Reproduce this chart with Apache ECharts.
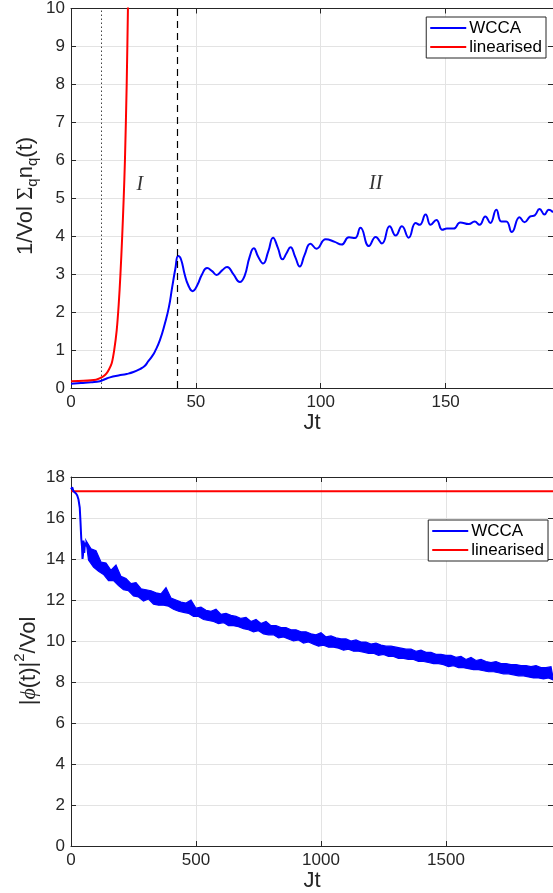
<!DOCTYPE html>
<html><head><meta charset="utf-8">
<script src="https://cdn.jsdelivr.net/npm/echarts@6/dist/echarts.min.js"></script>
<style>html,body{margin:0;padding:0;background:#fff}#c{width:553px;height:893px}</style>
</head><body><div id="c"></div>
<script>
// ---------- Top panel data: 1/Vol Σ_q n_q(t) ----------
const wccaTopT = [0,4,8,11.6,13.5,15.6,19,22.3,25,27.6,29.5,30.9,32.5,33.6,35.6,37.6,39.2,40.5,41.8,42.9,44,45.5,47,48.7,50.5,52.5,54.5,56.5,58.3,60.5,62.5,65,67.6,69.5,71.5,73.2,75,76.9,79,80.9,82.8,84.7,86.3,87.9,89.8,91.6,93.5,95.9,98.3,102,105.6,108.3,111.3,113.7,115.9,119.3,122,124.5,127.6,130,132.5,135.2,138,139.6,142,144,146.3,148.7,150.5,153.2,155.9,159.3,161.6,163.6,165.9,167.9,170.3,172.3,174.3,176.5,179.6,181.6,183.9,185.7,187.6,189.6,191.3,193];
const wccaTopV = [0.11,0.13,0.15,0.18,0.23,0.28,0.33,0.37,0.42,0.5,0.58,0.7,0.84,0.96,1.26,1.7,2.13,2.65,3.15,3.48,3.4,3.0,2.7,2.55,2.7,3.0,3.16,3.08,2.98,3.1,3.19,3.0,2.79,2.95,3.45,3.68,3.45,3.28,3.6,3.96,3.7,3.39,3.55,3.71,3.45,3.2,3.5,3.8,3.67,3.92,3.85,3.78,3.97,3.95,4.22,3.74,3.98,3.81,4.26,4.02,4.26,3.96,4.35,4.3,4.57,4.3,4.43,4.17,4.2,4.2,4.36,4.32,4.39,4.3,4.52,4.35,4.7,4.39,4.39,4.11,4.5,4.37,4.52,4.55,4.72,4.57,4.7,4.63];
const linTopT = [0,5,10,11.6,13,14.3,15.3,16.3,17.3,18.3,19.1,19.8,20.5,21.1,21.6,22.3,22.8,23.3];
const linTopV = [0.18,0.19,0.22,0.26,0.31,0.39,0.5,0.65,1.0,1.52,2.2,3.0,4.0,5.0,6.0,8.0,10.0,12.0];
const markerLines = [12, 42.5];           // dotted, dashed
const regionLabels = [[27.6, 5.35, 'I'], [122, 5.39, 'II']];

// ---------- Bottom panel data: |φ(t)|²/Vol ----------
const phiEarlyT = [0,5,10,15,20,25,30,35,38,41,44,46,48,50,53,56,60];
const phiEarlyV = [17.4,17.5,17.3,17.35,17.2,17.1,16.9,16.5,15.8,15.0,14.6,14.0,14.2,14.9,14.3,14.8,14.6];
// noisy band: upper edge at t = 60, 80, ..., 1920 ; lower edge at t = 70, 90, ..., 1930
const phiUpperStart = 60, phiLowerStart = 70, phiEdgeStep = 20;
const phiUpper = [
14.9,14.5,14.4,13.85,13.8, 13.45,13.7,13.15,13.05,12.8, 12.85,12.55,12.5,12.45,12.35,
12.3,12.6,12.1,12.0,11.9, 11.85,12.0,11.6,11.65,11.5, 11.45,11.55,11.3,11.35,11.25,
11.2,11.1,11.15,10.95,11.05, 10.85,10.95,10.75,10.75,10.65, 10.65,10.55,10.55,10.45,10.45,
10.35,10.3,10.4,10.2,10.25, 10.15,10.1,10.1,10.0,10.05, 9.95,9.95,9.85,9.9,9.8,
9.75,9.75,9.7,9.65,9.6, 9.6,9.5,9.55,9.45,9.45, 9.35,9.35,9.3,9.3,9.2,
9.25,9.1,9.2,9.05,9.1, 9.0,8.95,9.0,8.9,8.9, 8.85,8.85,8.8,8.8,8.75, 8.8,8.7,8.7,8.75];
const phiLower = [
13.95,13.6,13.4,13.25,12.95, 12.95,12.7,12.5,12.45,12.2, 12.15,11.95,12.05,11.8,11.75,
11.75,11.7,11.55,11.45,11.4, 11.35,11.2,11.2,11.05,11.0, 10.95,10.85,10.9,10.75,10.75,
10.7,10.6,10.55,10.45,10.5, 10.35,10.3,10.3,10.15,10.2, 10.1,10.0,10.05,9.9,9.95,
9.85,9.75,9.8,9.7,9.7, 9.65,9.55,9.6,9.5,9.5, 9.45,9.4,9.4,9.3,9.35,
9.25,9.25,9.15,9.15,9.1, 9.1,9.0,9.0,8.95,8.9, 8.9,8.85,8.75,8.8,8.7,
8.7,8.65,8.6,8.6,8.55, 8.5,8.5,8.45,8.4,8.4, 8.35,8.3,8.3,8.25,8.2, 8.2,8.15,8.2,8.1];
const linBottomT = [0, 1928];
const linBottomV = [17.3, 17.3];

// ---------- build ----------
const zip = (a, b) => a.map((v, i) => [v, b[i]]);
const upperPts = phiUpper.map((v, i) => [phiUpperStart + i * phiEdgeStep, v]);
const lowerPts = phiLower.map((v, i) => [phiLowerStart + i * phiEdgeStep, v]);

const AX = '#262626', GRIDC = '#e3e3e3', FONT = 'Liberation Sans', SERIF = "'Liberation Serif','DejaVu Serif'";
function xAxis(gi, pos, max, interval, main, name) {
  return {
    type: 'value', gridIndex: gi, position: pos, min: 0, max: max, interval: interval,
    axisLine: {show: true, onZero: false, lineStyle: {color: AX, width: 1}},
    axisTick: {show: true, inside: true, length: 5, lineStyle: {color: AX}},
    axisLabel: {show: main, color: AX, fontSize: 17, fontFamily: FONT, margin: 6, showMaxLabel: false,
      formatter: v => (v % interval === 0 ? String(v) : '')},
    splitLine: {show: main, lineStyle: {color: GRIDC, width: 1}},
    name: main ? name : '', nameLocation: 'middle', nameGap: 21,
    nameTextStyle: {color: AX, fontSize: 22, fontFamily: FONT}
  };
}
function yAxis(gi, pos, max, interval, main) {
  return {
    type: 'value', gridIndex: gi, position: pos, min: 0, max: max, interval: interval,
    axisLine: {show: true, onZero: false, lineStyle: {color: AX, width: 1}},
    axisTick: {show: true, inside: true, length: 5, lineStyle: {color: AX}},
    axisLabel: {show: main, color: AX, fontSize: 17, fontFamily: FONT, margin: 6},
    splitLine: {show: main, lineStyle: {color: GRIDC, width: 1}}
  };
}

// rotated y-axis titles with true sub/superscripts
const mctx = document.createElement('canvas').getContext('2d');
function titleGroup(cx, cy, segs) {
  let w = 0;
  const widths = segs.map(s => {
    mctx.font = (s.style || 'normal') + ' ' + s.size + 'px ' + s.family;
    const m = mctx.measureText(s.text).width; w += m; return m;
  });
  let x = -w / 2;
  const children = segs.map((s, i) => {
    const el = {type: 'text', x: x, y: s.dy || 0, silent: true,
      style: {text: s.text, fontSize: s.size, fontFamily: s.family, fontStyle: s.style || 'normal',
        fill: AX, align: 'left', verticalAlign: 'middle'}};
    x += widths[i];
    return el;
  });
  return {type: 'group', x: cx, y: cy, rotation: Math.PI / 2, children: children};
}
const topTitle = titleGroup(26, 196, [
  {text: '1/Vol ', size: 22, family: FONT},
  {text: 'Σ', size: 23, family: SERIF},
  {text: 'q', size: 15, family: FONT, dy: 7},
  {text: 'n', size: 22, family: FONT},
  {text: 'q', size: 15, family: FONT, dy: 7},
  {text: '(t)', size: 22, family: FONT}
]);
const botTitle = titleGroup(29, 661, [
  {text: '|', size: 22, family: FONT},
  {text: 'ϕ', size: 22, family: SERIF, style: 'italic'},
  {text: '(t)|', size: 22, family: FONT},
  {text: '2', size: 15, family: FONT, dy: -9},
  {text: '/Vol', size: 22, family: FONT}
]);

const legendBase = {
  orient: 'vertical', itemGap: 1, padding: [2, 4, 2, 4], backgroundColor: '#fff',
  borderColor: AX, borderWidth: 1, borderRadius: 0, itemWidth: 36, itemHeight: 2.2, icon: 'rect',
  textStyle: {color: '#000', fontSize: 17, fontFamily: FONT, padding: [0, 0, 0, -2], lineHeight: 18},
  data: ['WCCA', 'linearised']
};

const chart = echarts.init(document.getElementById('c'), null, {renderer: 'canvas'});
chart.setOption({
  animation: false,
  backgroundColor: '#fff',
  grid: [
    {left: 71, top: 5, right: 0, height: 383},
    {left: 71, top: 477, right: 0, height: 369}
  ],
  legend: [
    Object.assign({}, legendBase, {right: 7, top: 17}),
    Object.assign({}, legendBase, {right: 5, top: 520})
  ],
  graphic: [topTitle, botTitle],
  xAxis: [
    xAxis(0, 'bottom', 193, 50, true, 'Jt'),
    xAxis(0, 'top', 193, 50, false, ''),
    xAxis(1, 'bottom', 1928, 500, true, 'Jt'),
    xAxis(1, 'top', 1928, 500, false, '')
  ],
  yAxis: [
    yAxis(0, 'left', 10, 1, true),
    yAxis(0, 'right', 10, 1, false),
    yAxis(1, 'left', 18, 2, true),
    yAxis(1, 'right', 18, 2, false)
  ],
  series: [
    {
      name: 'WCCA', type: 'line', xAxisIndex: 0, yAxisIndex: 0, symbol: 'none', smooth: 0.5,
      data: zip(wccaTopT, wccaTopV), lineStyle: {color: '#0000ff', width: 2}, itemStyle: {color: '#0000ff'},
      markLine: {
        silent: true, symbol: ['none', 'none'], label: {show: false},
        data: [
          {xAxis: markerLines[0], lineStyle: {type: [1.5, 2.5], color: '#444', width: 1}},
          {xAxis: markerLines[1], lineStyle: {type: [7, 5], color: '#000', width: 1.2}}
        ]
      },
      z: 2
    },
    {
      name: 'linearised', type: 'line', xAxisIndex: 0, yAxisIndex: 0, symbol: 'none', smooth: 0.3,
      data: zip(linTopT, linTopV), lineStyle: {color: '#ff0000', width: 2}, itemStyle: {color: '#ff0000'}, z: 3
    },
    {
      name: 'regions', type: 'scatter', xAxisIndex: 0, yAxisIndex: 0, symbolSize: 0, silent: true,
      data: regionLabels,
      label: {show: true, position: 'inside', formatter: p => p.data[2], color: '#000',
        fontFamily: SERIF, fontStyle: 'italic', fontSize: 20}
    },
    {
      name: 'linearised', type: 'line', xAxisIndex: 2, yAxisIndex: 2, symbol: 'none',
      data: zip(linBottomT, linBottomV), lineStyle: {color: '#ff0000', width: 2}, itemStyle: {color: '#ff0000'}, z: 2
    },
    {
      name: 'WCCA', type: 'line', xAxisIndex: 2, yAxisIndex: 2, symbol: 'none',
      data: zip(phiEarlyT, phiEarlyV), lineStyle: {color: '#0000ff', width: 2}, itemStyle: {color: '#0000ff'}, z: 3
    },
    {
      name: 'WCCA', type: 'custom', xAxisIndex: 2, yAxisIndex: 2, z: 3, silent: true,
      data: [[phiUpperStart, phiUpper[0]]],
      renderItem: function (params, api) {
        const pts = upperPts.map(p => api.coord(p)).concat(lowerPts.slice().reverse().map(p => api.coord(p)));
        return {type: 'polygon', shape: {points: pts},
          style: {fill: '#0000ff', stroke: '#0000ff', lineWidth: 1.2, lineJoin: 'miter'}};
      }
    }
  ]
});
</script></body></html>
